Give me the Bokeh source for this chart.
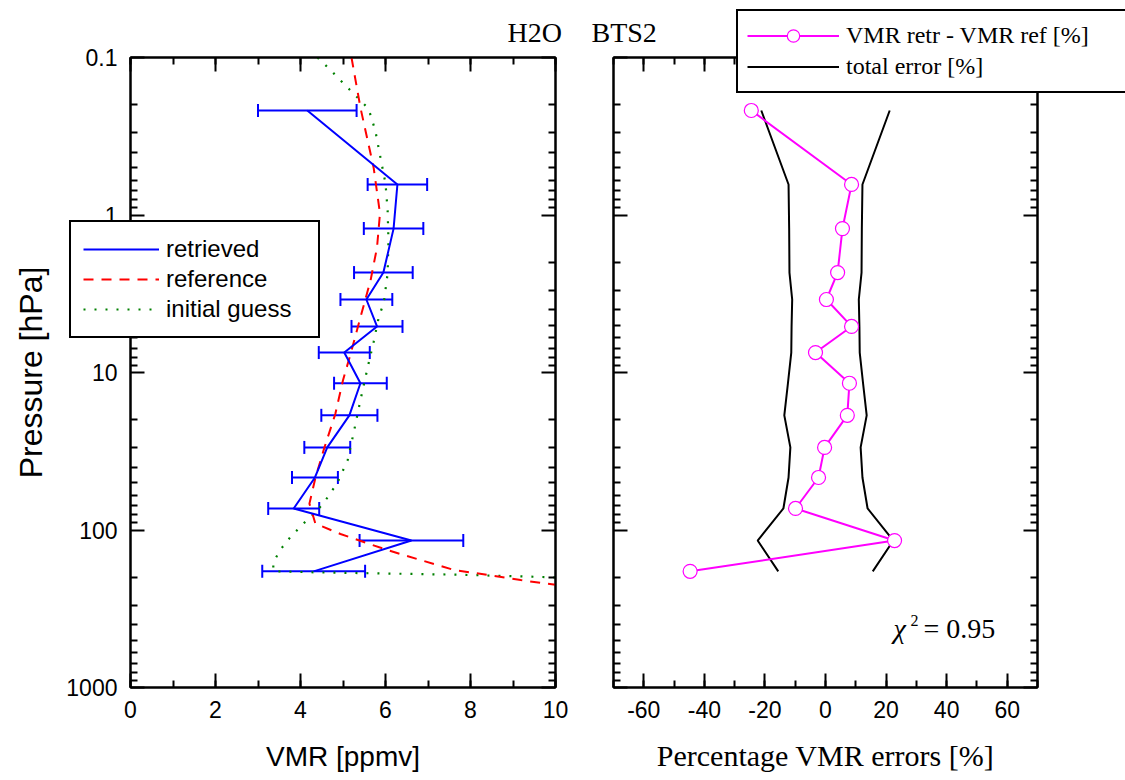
from bokeh.plotting import figure
from bokeh.layouts import row, column
from bokeh.models import (ColumnDataSource, Whisker, TeeHead, Range1d, LinearAxis, LogAxis,
                          FixedTicker, SingleIntervalTicker, CustomJSTickFormatter, Legend,
                          LegendItem, Label)
from bokeh.embed import file_html
from bokeh.resources import INLINE

# ---------------- data ----------------
# retrieval levels [hPa]
pressure = [0.217, 0.64, 1.22, 2.32, 3.44, 5.1, 7.47, 11.7, 18.7, 29.9, 46.4, 73.0, 116.7, 183.0]
# retrieved VMR [ppmv] and its error (half width of error bar)
vmr_retr = [4.16, 6.28, 6.19, 5.95, 5.55, 5.80, 5.03, 5.41, 5.15, 4.63, 4.34, 3.84, 6.61, 4.31]
vmr_err = [1.16, 0.70, 0.70, 0.69, 0.61, 0.60, 0.60, 0.62, 0.66, 0.54, 0.54, 0.60, 1.22, 1.21]

# reference profile
ref_p = [0.1, 0.208, 0.499, 0.978, 1.61, 2.59, 4.47, 7.6, 11.2, 18.3, 30.1, 46.7, 68, 91, 106,
         134, 155, 179, 193, 208, 223]
ref_vmr = [5.2, 5.41, 5.72, 5.87, 5.8, 5.65, 5.41, 5.18, 5.0, 4.82, 4.56, 4.35, 4.21, 4.35, 4.94,
           6.04, 6.82, 7.6, 8.4, 9.18, 10.0]

# initial guess profile
ig_p = [0.1, 0.119, 0.146, 0.174, 0.211, 0.291, 0.43, 0.63, 0.935, 1.45, 2.35, 3.6, 4.47, 6.4,
        9.3, 15.0, 24.2, 36, 50, 62, 75, 91, 111, 134, 161, 183, 186, 189, 192, 197, 200]
ig_vmr = [4.4, 4.69, 5.01, 5.29, 5.6, 5.76, 5.88, 6.0, 6.05, 6.07, 6.05, 5.96, 5.84, 5.72, 5.58,
          5.41, 5.25, 5.11, 4.87, 4.64, 4.4, 4.07, 3.76, 3.52, 3.36, 3.36, 4.47, 6.05, 7.6, 9.18, 10.0]

# percentage differences and total error [%]
pct_diff = [-24.5, 8.6, 5.6, 4.0, 0.3, 8.6, -3.3, 7.9, 7.2, -0.3, -2.3, -9.9, 22.8, -44.7]
total_err = [21.2, 12.2, 12.0, 11.9, 11.0, 11.2, 11.3, 12.4, 13.6, 11.6, 12.2, 13.9, 22.4, 15.6]

y_ticks = [0.1, 1, 10, 100, 1000]
y_minor = [m * d for d in [0.1, 1, 10, 100] for m in range(2, 10)]

title_left = "H2O"
title_right = "BTS2"
chi2_text = "= 0.95"

SANS = "Liberation Sans"
SERIF = "Liberation Serif"
BLUE, RED, GREEN, MAGENTA = "#0000FF", "#FF0000", "#008000", "#FF00FF"


def style_axis(ax, labels=True, font=SANS, size="28px"):
    ax.axis_line_width = 2
    ax.axis_line_color = "black"
    ax.major_tick_line_width = 2
    ax.minor_tick_line_width = 2
    ax.major_tick_line_color = "black"
    ax.minor_tick_line_color = "black"
    ax.major_tick_in = 14
    ax.major_tick_out = 0
    ax.minor_tick_in = 7
    ax.minor_tick_out = 0
    ax.major_label_text_font = SANS
    ax.major_label_text_font_size = "23px"
    ax.major_label_text_color = "black"
    ax.axis_label_text_font = font
    ax.axis_label_text_font_size = size
    ax.axis_label_text_font_style = "normal"
    ax.axis_label_text_color = "black"
    ax.major_label_standoff = 13
    if not labels:
        ax.formatter = CustomJSTickFormatter(code="return '';")
        ax.major_label_standoff = 0


def make_fig(xr, border_left, border_right, frame_w):
    p = figure(frame_width=frame_w, frame_height=630, y_axis_type="log",
               x_range=xr, y_range=Range1d(1000, 0.1),
               output_backend="svg", toolbar_location=None,
               min_border_left=border_left, min_border_right=border_right,
               min_border_top=57, min_border_bottom=93)
    p.grid.visible = False
    p.outline_line_color = "black"
    p.outline_line_width = 2
    p.background_fill_color = "white"
    p.border_fill_color = "white"
    return p


# ---------------- left panel ----------------
p1 = make_fig(Range1d(0, 10), 130, 29, 425)
ax = p1.xaxis[0]
ax.ticker = SingleIntervalTicker(interval=2, num_minor_ticks=2)
ax.formatter = CustomJSTickFormatter(code="return tick.toFixed(0);")
ax.axis_label = "VMR [ppmv]"
style_axis(ax)
ax.axis_label_standoff = 20
ay = p1.yaxis[0]
ay.ticker = FixedTicker(ticks=y_ticks, minor_ticks=y_minor)
ay.formatter = CustomJSTickFormatter(code="return tick < 1 ? tick.toFixed(1) : tick.toFixed(0);")
ay.axis_label = "Pressure [hPa]"
style_axis(ay, size="32px")
ay.axis_label_standoff = 14

top1 = LinearAxis(ticker=SingleIntervalTicker(interval=2, num_minor_ticks=2))
style_axis(top1, labels=False)
p1.add_layout(top1, "above")
right1 = LogAxis(ticker=FixedTicker(ticks=y_ticks, minor_ticks=y_minor))
style_axis(right1, labels=False)
p1.add_layout(right1, "right")

p1.line(ig_vmr, ig_p, line_color=GREEN, line_width=2.2, line_dash="2 9")
p1.line(ref_vmr, ref_p, line_color=RED, line_width=2, line_dash="10 8")
p1.line(vmr_retr, pressure, line_color=BLUE, line_width=2)

src = ColumnDataSource(dict(
    p=pressure,
    lo=[v - e for v, e in zip(vmr_retr, vmr_err)],
    hi=[v + e for v, e in zip(vmr_retr, vmr_err)],
))
wh = Whisker(base="p", lower="lo", upper="hi", dimension="width", source=src,
             line_color=BLUE, line_width=2,
             upper_head=TeeHead(size=13, line_color=BLUE, line_width=2),
             lower_head=TeeHead(size=13, line_color=BLUE, line_width=2))
p1.add_layout(wh)

# ---------------- right panel ----------------
p2 = make_fig(Range1d(-70, 70), 29, 88, 424)
bx = p2.xaxis[0]
bx.ticker = SingleIntervalTicker(interval=20, num_minor_ticks=2)
bx.formatter = CustomJSTickFormatter(code="return tick.toFixed(0);")
bx.axis_label = "Percentage VMR errors [%]"
style_axis(bx, font=SERIF, size="30px")
bx.axis_label_standoff = 18
by = p2.yaxis[0]
by.ticker = FixedTicker(ticks=y_ticks, minor_ticks=y_minor)
style_axis(by, labels=False)

top2 = LinearAxis(ticker=SingleIntervalTicker(interval=20, num_minor_ticks=2))
style_axis(top2, labels=False)
p2.add_layout(top2, "above")
right2 = LogAxis(ticker=FixedTicker(ticks=y_ticks, minor_ticks=y_minor))
style_axis(right2, labels=False)
p2.add_layout(right2, "right")

p2.line([-e for e in total_err], pressure, line_color="black", line_width=2)
p2.line(total_err, pressure, line_color="black", line_width=2)
p2.line(pct_diff, pressure, line_color=MAGENTA, line_width=2)
p2.scatter(pct_diff, pressure, marker="circle", size=14, fill_color="white",
           line_color=MAGENTA, line_width=1.2)

p2.add_layout(Label(x=280, y=59, x_units="screen", y_units="screen", text="χ",
                    text_font=SERIF, text_font_size="28px", text_font_style="italic",
                    text_color="black", text_baseline="alphabetic"))
p2.add_layout(Label(x=297, y=67, x_units="screen", y_units="screen", text="2",
                    text_font=SERIF, text_font_size="16px", text_color="black",
                    text_baseline="alphabetic"))
p2.add_layout(Label(x=310, y=59, x_units="screen", y_units="screen", text=chi2_text,
                    text_font=SERIF, text_font_size="28px", text_color="black",
                    text_baseline="alphabetic"))

# ---------------- overlay (legends and title, drawn over both panels) ----------------
ov = figure(width=1125, height=780, x_range=Range1d(0, 1125), y_range=Range1d(0, 780),
            min_border=0, toolbar_location=None, output_backend="svg",
            x_axis_location=None, y_axis_location=None,
            styles={"position": "absolute", "left": "0px", "top": "0px",
                    "z-index": "5", "pointer-events": "none"})
ov.grid.visible = False
ov.outline_line_color = None
ov.background_fill_color = None
ov.border_fill_color = None

# legend proxies: same series and styles, hidden here (only their legend symbols are shown)
lg_retr = ov.line(vmr_retr, pressure, line_color=BLUE, line_width=2, visible=False)
lg_ref = ov.line(ref_vmr, ref_p, line_color=RED, line_width=2, line_dash="10 8", visible=False)
lg_ig = ov.line(ig_vmr, ig_p, line_color=GREEN, line_width=2.2, line_dash="2 9", visible=False)
lg_ml = ov.line(pct_diff, pressure, line_color=MAGENTA, line_width=2, visible=False)
lg_mp = ov.scatter(pct_diff, pressure, marker="circle", size=14, fill_color="white",
                   line_color=MAGENTA, line_width=1.2, visible=False)
lg_err = ov.line(total_err, pressure, line_color="black", line_width=2, visible=False)

leg1 = Legend(items=[LegendItem(label="retrieved", renderers=[lg_retr]),
                     LegendItem(label="reference", renderers=[lg_ref]),
                     LegendItem(label="initial guess", renderers=[lg_ig])],
              location=(69, 442), padding=12, spacing=0,
              glyph_width=76, glyph_height=30, label_height=30, label_width=140,
              label_standoff=7, label_text_font=SANS, label_text_font_size="24px",
              label_text_color="black", border_line_color="black", border_line_width=2,
              border_line_alpha=1.0, background_fill_color="white",
              background_fill_alpha=1.0, click_policy="none")
ov.add_layout(leg1)

leg2 = Legend(items=[LegendItem(label="VMR retr - VMR ref [%]", renderers=[lg_ml, lg_mp]),
                     LegendItem(label="total error [%]", renderers=[lg_err])],
              location=(736, 687), padding=9, spacing=0,
              glyph_width=92, glyph_height=31, label_height=31, label_width=310,
              label_standoff=7, label_text_font=SERIF, label_text_font_size="24px",
              label_text_color="black", border_line_color="black", border_line_width=2,
              border_line_alpha=1.0, background_fill_color="white",
              background_fill_alpha=1.0, click_policy="none")
ov.add_layout(leg2)

ov.add_layout(Label(x=507, y=748, x_units="screen", y_units="screen", text=title_left,
                    text_font=SERIF, text_font_size="28px", text_color="black",
                    text_baseline="alphabetic"))
ov.add_layout(Label(x=591, y=748, x_units="screen", y_units="screen", text=title_right,
                    text_font=SERIF, text_font_size="28px", text_color="black",
                    text_baseline="alphabetic"))

layout = column(row(p1, p2, spacing=0), ov, spacing=0)
open("out.html", "w").write(file_html(layout, INLINE))
